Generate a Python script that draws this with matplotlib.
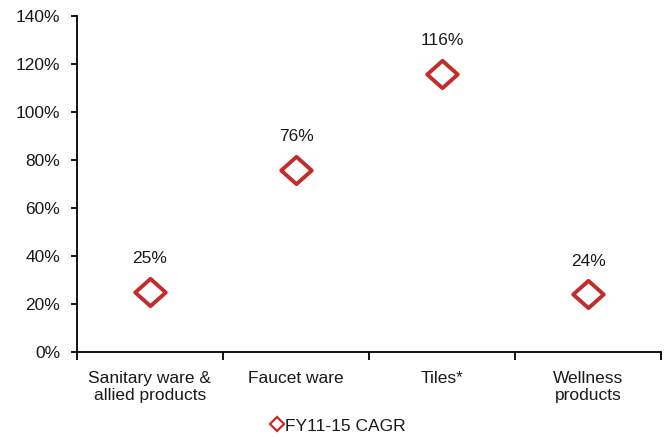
import matplotlib
matplotlib.use("Agg")
import matplotlib.pyplot as plt
from matplotlib.lines import Line2D
from matplotlib.path import Path
from matplotlib.ticker import FuncFormatter, FixedLocator

plt.rcParams['font.family'] = ['Liberation Sans', 'DejaVu Sans']

categories = ["Sanitary ware &\nallied products", "Faucet ware", "Tiles*", "Wellness\nproducts"]
cagr = [25, 76, 116, 24]
series_name = "FY11-15 CAGR"
red = "#C42B2B"
text_color = "#1a1a1a"

# slightly wide diamond marker
diamond = Path([(0, 1), (1.12, 0), (0, -1), (-1.12, 0), (0, 1)],
               [Path.MOVETO, Path.LINETO, Path.LINETO, Path.LINETO, Path.CLOSEPOLY])

fig = plt.figure(figsize=(6.69, 4.37), dpi=100)
ax = fig.add_axes([77/669, 1 - 352/437, (661-77)/669, (352-16)/437])

x = list(range(len(categories)))
ax.plot(x, cagr, linestyle="none", marker=diamond, markersize=22, markerfacecolor="white",
        markeredgecolor=red, markeredgewidth=2.8, zorder=3)

for xi, v in zip(x, cagr):
    ax.annotate(f"{v}%", (xi, v), xytext=(0, 24), textcoords="offset points",
                ha="center", va="center", fontsize=12.5, color=text_color)

ax.set_xlim(-0.5, len(categories) - 0.5)
ax.set_ylim(0, 140)
ax.set_yticks(range(0, 141, 20))
ax.yaxis.set_major_formatter(FuncFormatter(lambda v, p: f"{int(v)}%"))

ax.set_xticks(x)
ax.set_xticklabels(categories, fontsize=12.5, color=text_color, linespacing=1.15)
ax.tick_params(axis="x", which="major", length=0, pad=14)
ax.xaxis.set_minor_locator(FixedLocator([i - 0.5 for i in range(len(categories) + 1)]))
ax.tick_params(axis="x", which="minor", length=6, width=1.3, direction="out")
ax.tick_params(axis="y", length=4, width=1.3, direction="out", labelsize=12.5,
               labelcolor=text_color, pad=8)

for s in ["top", "right"]:
    ax.spines[s].set_visible(False)
for s in ["left", "bottom"]:
    ax.spines[s].set_linewidth(1.3)

handle = Line2D([], [], linestyle="none", marker="D", markersize=7, markerfacecolor="white",
                markeredgecolor=red, markeredgewidth=1.6)
fig.legend([handle], [series_name], loc="center", bbox_to_anchor=(337/669, 1 - 426/437),
           frameon=False, fontsize=12.5, handletextpad=0.0, handlelength=1.0,
           labelcolor=text_color)

fig.savefig("out.png", dpi=100)
